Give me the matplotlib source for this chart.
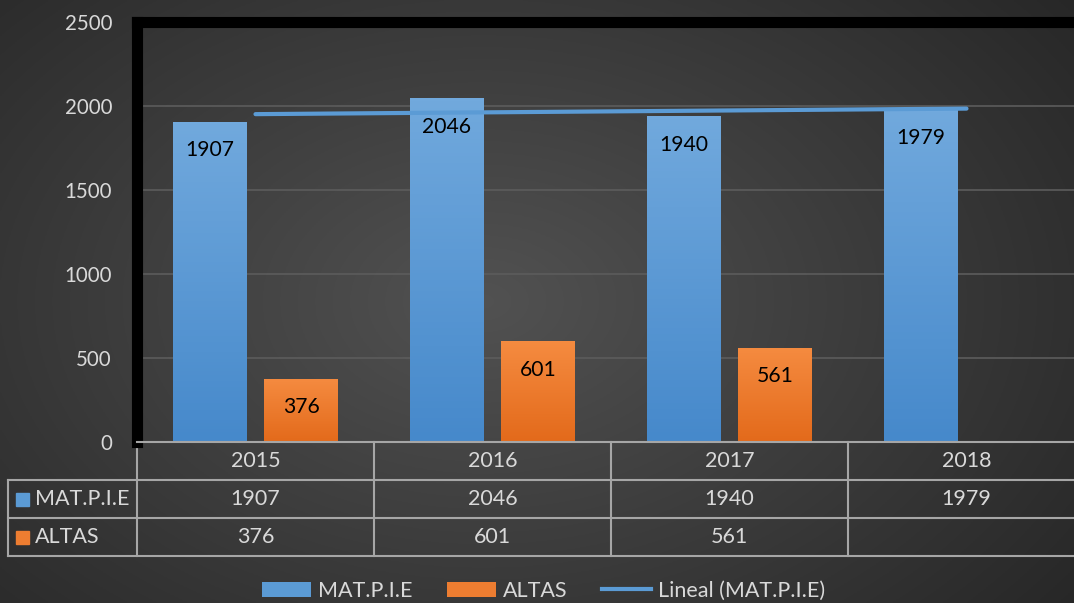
import numpy as np
import matplotlib
matplotlib.use("Agg")
import matplotlib.pyplot as plt
import matplotlib.transforms as mtransforms
from matplotlib.patches import Patch, Rectangle
from matplotlib.lines import Line2D
from matplotlib.colors import LinearSegmentedColormap

# ---- data ----
years = ["2015", "2016", "2017", "2018"]
mat_pie = [1907, 2046, 1940, 1979]
altas = [376, 601, 561, None]
series_names = ["MAT.P.I.E", "ALTAS"]
trend_name = "Lineal (MAT.P.I.E)"
yticks = [0, 500, 1000, 1500, 2000, 2500]

plt.rcParams['font.family'] = ['Lato', 'DejaVu Sans']
TXT = "#d9d9d9"
BLUE = "#5b9bd5"
ORANGE = "#ed7d31"
FS_TAB = 15.5
FS_TICK = 14.8
FS_LAB = 15.2

fig = plt.figure(figsize=(10.74, 6.03), dpi=100)

# background radial gradient
bg = fig.add_axes([0, 0, 1, 1], zorder=-10)
yy, xx = np.mgrid[0:1:300j, 0:1:500j]
r = np.sqrt(((xx - 0.45) / 0.75) ** 2 + ((yy - 0.5) / 0.9) ** 2)
val = np.clip(0.32 - 0.18 * r, 0.14, 0.32)
bg.imshow(np.dstack([val, val, val]), aspect='auto', extent=[0, 1, 0, 1])
bg.axis('off')

W, H = 1074, 603
left_px, right_px, top_px, bottom_px = 137, 1085, 22, 442
ax = fig.add_axes([left_px / W, 1 - bottom_px / H, (right_px - left_px) / W, (bottom_px - top_px) / H])
ax.set_facecolor('none')

x = np.arange(len(years))
bw = 0.312
gap = 0.072
off = (bw + gap) / 2

alt_vals = [np.nan if v is None else v for v in altas]
b1 = ax.bar(x - off, mat_pie, bw, color=BLUE, zorder=3)
b2 = ax.bar(x + off, alt_vals, bw, color=ORANGE, zorder=3)

def grad(bars, top, bottom):
    cmap = LinearSegmentedColormap.from_list('g', [bottom, top])
    g = np.linspace(0, 1, 100).reshape(-1, 1)
    for p in bars:
        h = p.get_height()
        if not np.isfinite(h):
            continue
        im = ax.imshow(g, cmap=cmap, origin='lower', aspect='auto',
                       extent=[p.get_x(), p.get_x() + p.get_width(), 0, h], zorder=3.5)
        im.set_clip_path(p)
grad(b1, "#71a9dd", "#4689cb")
grad(b2, "#f58b40", "#e36a1b")

# bar labels
for bars, vals in ((b1, mat_pie), (b2, altas)):
    for p, v in zip(bars, vals):
        if v is None:
            continue
        ax.annotate(str(v), (p.get_x() + p.get_width() / 2, v), xytext=(0, -20.5),
                    textcoords='offset points', ha='center', va='center',
                    fontsize=FS_LAB, color='black', zorder=5)

# linear trend
coef = np.polyfit(x, mat_pie, 1)
ax.plot(x, np.polyval(coef, x), color=BLUE, lw=3, zorder=4, solid_capstyle='round')

ax.set_xlim(-0.5, len(years) - 0.5)
ax.set_ylim(0, 2500)
ax.set_yticks(yticks)
ax.set_yticklabels([str(t) for t in yticks], color=TXT, fontsize=FS_TICK)
ax.tick_params(axis='y', length=0, pad=18)
ax.set_xticks([])
ax.yaxis.grid(True, color="#5c5c5c", lw=1.2, zorder=0)
ax.set_axisbelow(True)
for s in ('left', 'top'):
    ax.spines[s].set_color('black')
    ax.spines[s].set_linewidth(8)
ax.spines['right'].set_visible(False)
ax.spines['bottom'].set_visible(False)

# ---- data table ----
trans = mtransforms.blended_transform_factory(ax.transData, ax.transAxes)
rh = 38 / (bottom_px - top_px)
lab_left = -0.5 - (left_px - 8) / ((right_px - left_px) / len(years))
LC = "#a6a6a6"
xr = len(years) - 0.5 + 0.2
ax.plot([-0.5, xr], [0, 0], color=LC, lw=1.5, transform=trans, clip_on=False, zorder=6)
for i in (1, 2, 3):
    ax.plot([lab_left, xr], [-i * rh, -i * rh], color=LC, lw=1.5, transform=trans, clip_on=False)
for b in np.arange(-0.5, len(years) + 0.5, 1):
    ax.plot([b, b], [0, -3 * rh], color=LC, lw=1.5, transform=trans, clip_on=False)
ax.plot([lab_left, lab_left], [-rh, -3 * rh], color=LC, lw=1.5, transform=trans, clip_on=False)

for i, yv in enumerate(years):
    ax.text(i, -0.5 * rh, yv, ha='center', va='center', color=TXT, fontsize=FS_TAB, transform=trans)
for i, v in enumerate(mat_pie):
    ax.text(i, -1.5 * rh, str(v), ha='center', va='center', color=TXT, fontsize=FS_TAB, transform=trans)
for i, v in enumerate(altas):
    if v is not None:
        ax.text(i, -2.5 * rh, str(v), ha='center', va='center', color=TXT, fontsize=FS_TAB, transform=trans)

sq_w = 0.055
sq_h = 13 / (bottom_px - top_px)
for row, (name, col) in enumerate(zip(series_names, [BLUE, ORANGE])):
    yc = -(row + 1.5) * rh
    ax.add_patch(Rectangle((lab_left + 0.035, yc - sq_h / 2), sq_w, sq_h,
                           transform=trans, color=col, clip_on=False))
    ax.text(lab_left + 0.035 + sq_w + 0.022, yc, name, ha='left', va='center',
            color=TXT, fontsize=FS_TAB, transform=trans)

# ---- legend ----
handles = [Patch(facecolor=BLUE), Patch(facecolor=ORANGE),
           Line2D([0], [0], color=BLUE, lw=3)]
leg = fig.legend(handles, series_names + [trend_name], loc='center', bbox_to_anchor=(0.506, 0.02),
                 ncol=3, frameon=False, fontsize=FS_TAB, labelcolor=TXT,
                 handlelength=2.3, handleheight=0.75, handletextpad=0.3, columnspacing=1.6)

fig.savefig("out.png", dpi=100)
